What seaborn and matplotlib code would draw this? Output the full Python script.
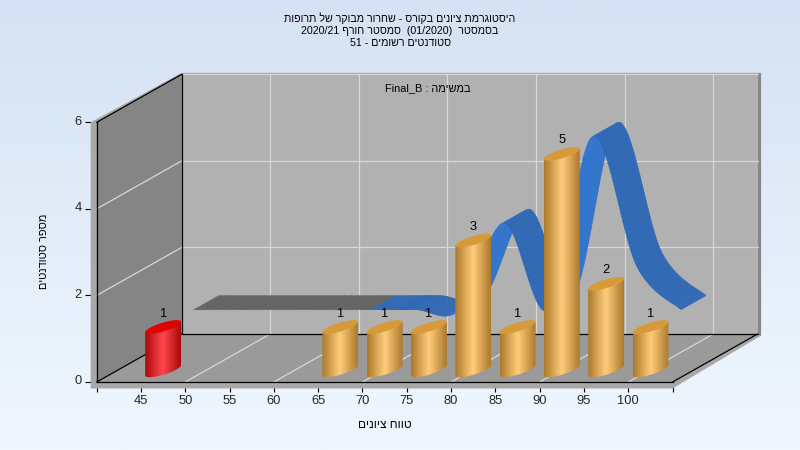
import numpy as np
import pandas as pd
import seaborn as sns
import matplotlib.pyplot as plt
from matplotlib.collections import PolyCollection
from matplotlib.patches import Polygon
from matplotlib.transforms import ScaledTranslation

# histogram data
bin_centers = [47.5, 67.5, 72.5, 77.5, 82.5, 87.5, 92.5, 97.5, 102.5]
counts = [1, 1, 1, 1, 3, 1, 5, 2, 1]
pass_mark = 50

x_ticks = [40, 45, 50, 55, 60, 65, 70, 75, 80, 85, 90, 95, 100, 105]
x_tick_labels = ['', '45', '50', '55', '60', '65', '70', '75', '80', '85', '90', '95', '100', '']
y_ticks = [0, 2, 4, 6]
grid_x = [50, 60, 70, 80, 90, 100]
grid_y = [2, 4]

title_lines = [
    'היסטוגרמת ציונים בקורס - שחרור מבוקר של תרופות',
    'בסמסטר  (01/2020)  סמסטר חורף 2020/21',
    'סטודנטים רשומים - 51',
]
task_label = 'במשימה : Final_B'
x_label = 'טווח ציונים'
y_label = 'מספר סטודנטים'

FONT = ['Liberation Sans', 'DejaVu Sans']
NUM_SIZE = 9.3

# front plane of the box in pixels, the rest follows from the axes scales
LEFT, RIGHT, BOTTOM, TOP = 96.7, 672.6, 382.0, 122.3
X0, X1, Y0, Y1 = 40, 105, 0, 6
PX_X = (RIGHT - LEFT) / (X1 - X0)
PX_Y = (BOTTOM - TOP) / (Y1 - Y0)
DEPTH_X = 85 / PX_X
DEPTH_Y = 48 / PX_Y
BASE = 0.27     # how far the marks float above the front floor edge
RIBBON_Z = (0.36, 0.655)


def rgb(r, g, b):
    return (r / 255, g / 255, b / 255)


def visual(text):
    """matplotlib lays text out left to right, so put Hebrew in display order"""
    tokens = text.split(' ')
    out = []
    for tok in reversed(tokens):
        has_hebrew = any('\u0590' <= c <= '\u05ff' for c in tok)
        out.append(tok[::-1] if has_hebrew else tok)
    return ' '.join(out)


def box(x, y, z=0.0):
    return (x + z * DEPTH_X, y + z * DEPTH_Y)


def spline_segments(xs, ys, n=30):
    """Cardinal spline through the points, one sampled array per segment"""
    p = np.column_stack([xs, ys]).astype(float)
    segs = []
    for i in range(len(p) - 1):
        before = p[max(i - 1, 0)]
        after = p[min(i + 2, len(p) - 1)]
        c1 = p[i] + (p[i + 1] - before) / 6
        c2 = p[i + 1] - (after - p[i]) / 6
        t = np.linspace(0, 1, n)[:, None]
        segs.append((1 - t) ** 3 * p[i] + 3 * (1 - t) ** 2 * t * c1
                    + 3 * (1 - t) * t ** 2 * c2 + t ** 3 * p[i + 1])
    return segs


def draw_walls(ax):
    # outer shell
    ax.add_patch(Polygon([(X0 - 0.68, Y1), box(X0, Y1 + 0.035, 1), box(X1 + 0.4, Y1 + 0.035, 1),
                          box(X1 + 0.4, Y0 - 0.035, 1), (X1, Y0 - 0.15), (X0 - 0.68, Y0 - 0.15)],
                         fc=rgb(168, 168, 168), ec='none', clip_on=False, zorder=1))
    ax.add_patch(Polygon([box(X1, Y0, 1), box(X1, Y1 + 0.035, 1), box(X1 + 0.4, Y1 + 0.035, 1),
                          box(X1 + 0.4, Y0 - 0.035, 1)],
                         fc=rgb(135, 135, 135), ec='none', clip_on=False, zorder=1.1))
    # back wall, left wall, floor
    ax.add_patch(Polygon([box(X0, Y0, 1), box(X1, Y0, 1), box(X1, Y1, 1), box(X0, Y1, 1)],
                         fc=rgb(177, 177, 177), ec='none', clip_on=False, zorder=1.2))
    ax.add_patch(Polygon([box(X0, Y0), box(X0, Y1), box(X0, Y1, 1), box(X0, Y0, 1)],
                         fc=rgb(133, 133, 133), ec='none', clip_on=False, zorder=1.2))
    ax.add_patch(Polygon([box(X0, Y0), box(X1, Y0), box(X1, Y0, 1), box(X0, Y0, 1)],
                         fc=rgb(154, 154, 154), ec='none', clip_on=False, zorder=1.2))

    # grid
    grid_col = rgb(216, 216, 216)
    for gy in grid_y + [Y1]:
        xy = [box(X0, gy, 1), box(X1, gy, 1)]
        ax.plot(*zip(*xy), color=grid_col, lw=0.9, clip_on=False, zorder=2)
    for gy in grid_y:
        xy = [box(X0, gy), box(X0, gy, 1)]
        ax.plot(*zip(*xy), color=grid_col, lw=0.9, clip_on=False, zorder=2)
    for gx in grid_x:
        xy = [box(gx, Y0, 1), box(gx, Y1, 1)]
        ax.plot(*zip(*xy), color=grid_col, lw=0.9, clip_on=False, zorder=2)
        xy = [box(gx, Y0), box(gx, Y0, 1)]
        ax.plot(*zip(*xy), color=grid_col, lw=0.9, clip_on=False, zorder=2)

    # black box edges
    edges = [
        [box(X0, Y0), box(X0, Y0, 1)],
        [box(X1, Y0), box(X1, Y0, 1)],
        [box(X0, Y0, 1), box(X1, Y0, 1)],
        [box(X0, Y0, 1), box(X0, Y1, 1)],
        [box(X0, Y1), box(X0, Y1, 1)],
    ]
    for xy in edges:
        ax.plot(*zip(*xy), color='black', lw=0.9, clip_on=False, zorder=3)


def draw_ribbon(ax):
    segs = spline_segments(bin_centers, np.array(counts) + BASE)
    polys, colors = [], []
    for i, seg in enumerate(segs):
        for a, b in zip(seg[:-1], seg[1:]):
            polys.append([box(a[0], a[1], RIBBON_Z[0]), box(b[0], b[1], RIBBON_Z[0]),
                          box(b[0], b[1], RIBBON_Z[1]), box(a[0], a[1], RIBBON_Z[1])])
            if i == 0:
                colors.append(rgb(100, 100, 100))   # empty bins
            elif b[1] - a[1] > 1e-3:
                colors.append(rgb(50, 117, 205))
            else:
                colors.append(rgb(48, 105, 180))
    coll = PolyCollection(polys, facecolors=colors, edgecolors=colors, linewidths=0.3,
                          clip_on=False, zorder=4)
    ax.add_collection(coll)


def draw_cylinders(ax, bars):
    gold = sns.blend_palette([rgb(172, 122, 45), rgb(255, 205, 122), rgb(172, 122, 45)], as_cmap=True)
    red = sns.blend_palette([rgb(170, 8, 12), rgb(255, 72, 78), rgb(170, 8, 12)], as_cmap=True)
    gradient = np.linspace(0, 1, 64)[None, :]
    t = np.linspace(0, 2 * np.pi, 121)
    skew, thin = 5.2 / PX_Y, 4.5 / PX_Y

    for center, value, bar in zip(bin_centers, counts, bars):
        half = bar.get_width() / 2
        is_pass = center >= pass_mark
        ex = center + half * np.cos(t)
        ey = skew * np.cos(t) + thin * np.sin(t)
        low = (t >= np.pi)
        top_y = BASE + bar.get_height()

        body = list(zip(ex[low], BASE + ey[low]))
        body += [(center + half, top_y + skew), (center - half, top_y - skew)]
        clip = Polygon(body, transform=ax.transData)
        im = ax.imshow(gradient, extent=(center - half, center + half, 0, top_y + skew),
                       cmap=gold if is_pass else red, aspect='auto', zorder=5)
        im.set_clip_path(clip)
        ax.fill(ex, top_y + ey, color=rgb(214, 155, 56) if is_pass else rgb(225, 0, 0),
                lw=0, clip_on=False, zorder=6)
        ax.text(center, top_y + 0.31, str(value), ha='center', va='center', family=FONT,
                fontsize=NUM_SIZE, color='black', zorder=7)


sns.set_style('white')
plt.rcParams['font.family'] = FONT

fig = plt.figure(figsize=(8, 4.5), dpi=100)

# page gradient
bg = fig.add_axes([0, 0, 1, 1], zorder=0)
page = sns.blend_palette([rgb(213, 226, 243), rgb(240, 247, 255)], as_cmap=True)
bg.imshow(np.linspace(0, 1, 256)[:, None], cmap=page, aspect='auto')
bg.axis('off')

ax = fig.add_axes([LEFT / 800, 1 - BOTTOM / 450, (RIGHT - LEFT) / 800, (BOTTOM - TOP) / 450], zorder=1)
ax.patch.set_visible(False)

df = pd.DataFrame({'score': bin_centers, 'students': counts})
sns.barplot(data=df, x='score', y='students', native_scale=True, width=0.81, ax=ax)
bars = list(ax.patches)
for bar in bars:
    bar.set_visible(False)     # kept for their scaled geometry, redrawn as cylinders

draw_walls(ax)
draw_ribbon(ax)
draw_cylinders(ax, bars)

ax.set_xlim(X0, X1)
ax.set_ylim(Y0, Y1)
ax.set_xticks(x_ticks, x_tick_labels)
ax.set_yticks(y_ticks)
ax.tick_params(axis='x', length=7.2, width=0.8, pad=2, color='black', labelsize=NUM_SIZE, bottom=True)
ax.tick_params(axis='y', length=8.6, width=0.8, pad=2, color='black', labelsize=NUM_SIZE, left=True)
for label in ax.get_yticklabels():
    label.set_transform(label.get_transform() + ScaledTranslation(0, 0.02, fig.dpi_scale_trans))
ax.set_xlabel('')
ax.set_ylabel('')
for name in ['top', 'right']:
    ax.spines[name].set_visible(False)
for name in ['left', 'bottom']:
    ax.spines[name].set_color('black')
    ax.spines[name].set_linewidth(0.9)
    ax.spines[name].set_zorder(3)

# titles and axis names
for line, py in zip(title_lines, [18, 30.5, 43]):
    fig.text(400 / 800, 1 - py / 450, visual(line), ha='center', va='center',
             fontsize=7.7, color='black', zorder=10)
fig.text(427.5 / 800, 1 - 88 / 450, visual(task_label), ha='center', va='center',
         fontsize=7.9, color='black', zorder=10)
fig.text(385 / 800, 1 - 425 / 450, visual(x_label), ha='center', va='center',
         fontsize=8.6, color='black', zorder=10)
fig.text(44 / 800, 1 - 251 / 450, visual(y_label), ha='center', va='center', rotation=90,
         fontsize=7.9, color='black', zorder=10)

fig.savefig('out.png', dpi=100)
